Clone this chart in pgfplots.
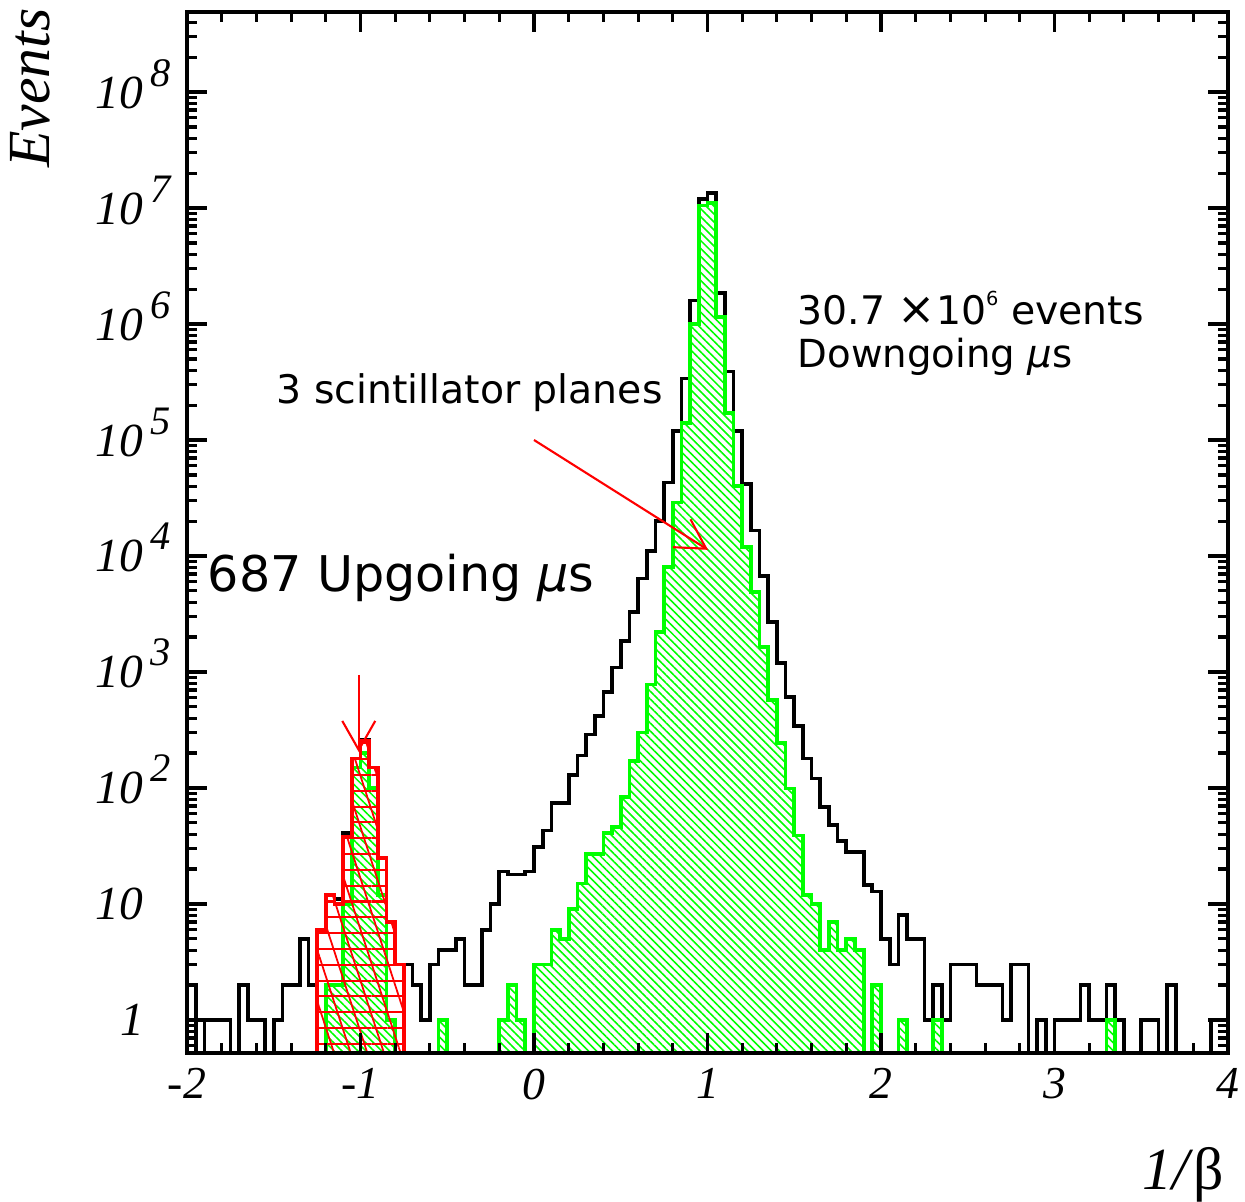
\documentclass[border=0pt]{standalone}
\usepackage{pgfplots}
\pgfplotsset{compat=1.18}
\usepackage{fontspec}
\setmainfont{Liberation Serif}
\newfontfamily\dejavu{DejaVu Sans}
\usetikzlibrary{patterns.meta,arrows.meta}
\newcommand{\tp}[1]{10\hspace{0.07cm}\raisebox{0.22cm}{\fontsize{11.5}{13}\selectfont #1}}
\begin{document}
\begin{tikzpicture}
\useasboundingbox (-1.87,-1.49) rectangle (10.58,10.53);
\begin{axis}[
  scale only axis, width=10.41cm, height=10.41cm,
  xmin=-2, xmax=4, ymode=log, ymin=0.519, ymax=4.9e8,
  axis on top,
  axis line style={line width=1.2pt},
  tick align=inside,
  major tick length=0.2cm, minor tick length=0.1cm,
  every tick/.append style={line width=0.9pt, black},
  xtick={-2,-1,0,1,2,3,4}, minor x tick num=4,
  xticklabels={-2,-1,0,1,2,3,4},
  xticklabel style={font=\fontsize{13}{15}\selectfont\itshape, anchor=north, inner sep=0pt, yshift=-0.15cm},
  ytick={1,10,1e2,1e3,1e4,1e5,1e6,1e7,1e8},
  yticklabels={\hspace{0.25cm}1,10,\tp{2},\tp{3},\tp{4},\tp{5},\tp{6},\tp{7},\tp{8}},
  yticklabel style={font=\fontsize{13.5}{16}\selectfont\itshape, anchor=base west, inner sep=0pt, xshift=-0.92cm, yshift=-0.16cm},
  minor ytick={0.6,0.7,0.8,0.9,2,3,4,5,6,7,8,9,20,30,40,50,60,70,80,90,200,300,400,500,600,700,800,900,2e3,3e3,4e3,5e3,6e3,7e3,8e3,9e3,2e4,3e4,4e4,5e4,6e4,7e4,8e4,9e4,2e5,3e5,4e5,5e5,6e5,7e5,8e5,9e5,2e6,3e6,4e6,5e6,6e6,7e6,8e6,9e6,2e7,3e7,4e7,5e7,6e7,7e7,8e7,9e7,2e8,3e8,4e8},
]
% all events (black)
\addplot[black, line width=1.05pt, const plot mark left] table {
x y
-2.00 2
-1.95 0.01
-1.90 1
-1.85 1
-1.80 1
-1.75 0.01
-1.70 2
-1.65 1
-1.60 1
-1.55 0.01
-1.50 1
-1.45 2
-1.40 2
-1.35 5
-1.30 2
-1.25 6
-1.20 12
-1.15 11
-1.10 41
-1.05 180
-1.00 260
-0.95 150
-0.90 25
-0.85 7
-0.80 3
-0.75 3
-0.70 2
-0.65 1
-0.60 3
-0.55 4
-0.50 4
-0.45 5
-0.40 2
-0.35 2
-0.30 6
-0.25 10
-0.20 19
-0.15 18
-0.10 18
-0.05 19
0.00 31
0.05 43
0.10 74
0.15 74
0.20 130
0.25 190
0.30 290
0.35 420
0.40 670
0.45 1090
0.50 1850
0.55 3300
0.60 6400
0.65 1.1e4
0.70 2.0e4
0.75 4.3e4
0.80 1.2e5
0.85 3.4e5
0.90 1.6e6
0.95 1.2e7
1.00 1.35e7
1.05 1.85e6
1.10 3.9e5
1.15 1.2e5
1.20 4.2e4
1.25 1.66e4
1.30 6700
1.35 2700
1.40 1200
1.45 610
1.50 340
1.55 180
1.60 121
1.65 69
1.70 48
1.75 35
1.80 28
1.85 28
1.90 14.6
1.95 12.8
2.00 5
2.05 3
2.10 8
2.15 5
2.20 5
2.25 1
2.30 2
2.35 1
2.40 3
2.45 3
2.50 3
2.55 2
2.60 2
2.65 2
2.70 1
2.75 3
2.80 3
2.85 0.01
2.90 1
2.95 0.01
3.00 1
3.05 1
3.10 1
3.15 2
3.20 1
3.25 1
3.30 2
3.35 1
3.40 0.01
3.45 0.01
3.50 1
3.55 1
3.60 0.01
3.65 2
3.70 0.01
3.75 0.01
3.80 0.01
3.85 0.01
3.90 1
3.95 1
4.00 1
};
% 3 scintillator planes (green)
\addplot[draw=green, line width=1.05pt, const plot mark left,
  pattern={Lines[angle=-45,distance=1.6pt,line width=0.45pt]}, pattern color=green] table {
x y
-1.30 0.01
-1.25 0.01
-1.20 2
-1.15 2
-1.10 10
-1.05 150
-1.00 200
-0.95 100
-0.90 12
-0.85 1
-0.80 0.01
-0.75 0.01
-0.55 1
-0.50 0.01
-0.45 0.01
-0.20 1
-0.15 2
-0.10 1
-0.05 0.01
0.00 3
0.05 3
0.10 6
0.15 5
0.20 9
0.25 15
0.30 27
0.35 27
0.40 41
0.45 46
0.50 84
0.55 170
0.60 300
0.65 780
0.70 2200
0.75 8000
0.80 2.9e4
0.85 1.4e5
0.90 1.0e6
0.95 1.05e7
1.00 1.1e7
1.05 1.15e6
1.10 1.7e5
1.15 4.0e4
1.20 1.2e4
1.25 4900
1.30 1650
1.35 575
1.40 243
1.45 99
1.50 39
1.55 12
1.60 10
1.65 4
1.70 7
1.75 4
1.80 5
1.85 4
1.90 0.01
1.95 2
2.00 0.01
2.05 0.01
2.10 1
2.15 0.01
2.20 0.01
2.30 1
2.35 0.01
2.40 0.01
3.30 1
3.35 0.01
3.40 0.01
} -- cycle;
% upgoing (red)
\addplot[draw=none, const plot mark left,
  pattern={Lines[angle=0,distance=4.5pt,line width=0.6pt]}, pattern color=red] table {
x y
-1.30 0.01
-1.25 6
-1.20 12
-1.15 10
-1.10 38
-1.05 180
-1.00 255
-0.95 150
-0.90 25
-0.85 7
-0.80 3
-0.75 0.01
-0.70 0.01
} -- cycle;
\addplot[draw=red, line width=1.05pt, const plot mark left,
  pattern={Lines[angle=-72,distance=4.5pt,line width=0.5pt]}, pattern color=red] table {
x y
-1.30 0.01
-1.25 6
-1.20 12
-1.15 10
-1.10 38
-1.05 180
-1.00 255
-0.95 150
-0.90 25
-0.85 7
-0.80 3
-0.75 0.01
-0.70 0.01
} -- cycle;
\draw[red, line width=0.6pt, -{Straight Barb[length=2.9mm,width=3.3mm]}] (axis cs:0.0,1e5) -- (axis cs:1.003,1.13e4);
\draw[red, line width=0.6pt, -{Straight Barb[length=2.9mm,width=3.3mm]}] (axis cs:-1.01,942) -- (axis cs:-1.01,204);
\end{axis}
\node[rotate=90, anchor=base east, inner sep=0pt, font=\fontsize{17}{20}\selectfont\itshape] at (-1.37,10.45) {Events};
\node[anchor=base east, inner sep=0pt, font=\fontsize{17}{20}\selectfont] at (10.38,-1.37) {\textit{1/}β};
\node[anchor=base west, inner sep=0pt, font=\dejavu\fontsize{11.2}{13}\selectfont] at (6.10,7.28) {30.7 {\fontsize{13}{13}\selectfont\texttimes}10\raisebox{0.19cm}{\fontsize{5.5}{6}\selectfont 6} events};
\node[anchor=base west, inner sep=0pt, font=\dejavu\fontsize{11}{13}\selectfont] at (6.10,6.85) {Downgoing {\itshape μ}s};
\node[anchor=base west, inner sep=0pt, font=\dejavu\fontsize{11.2}{13}\selectfont] at (0.89,6.49) {3 scintillator planes};
\node[anchor=base west, inner sep=0pt, font=\dejavu\fontsize{14}{17}\selectfont] at (0.20,4.61) {687 Upgoing {\itshape μ}s};
\end{tikzpicture}
\end{document}
